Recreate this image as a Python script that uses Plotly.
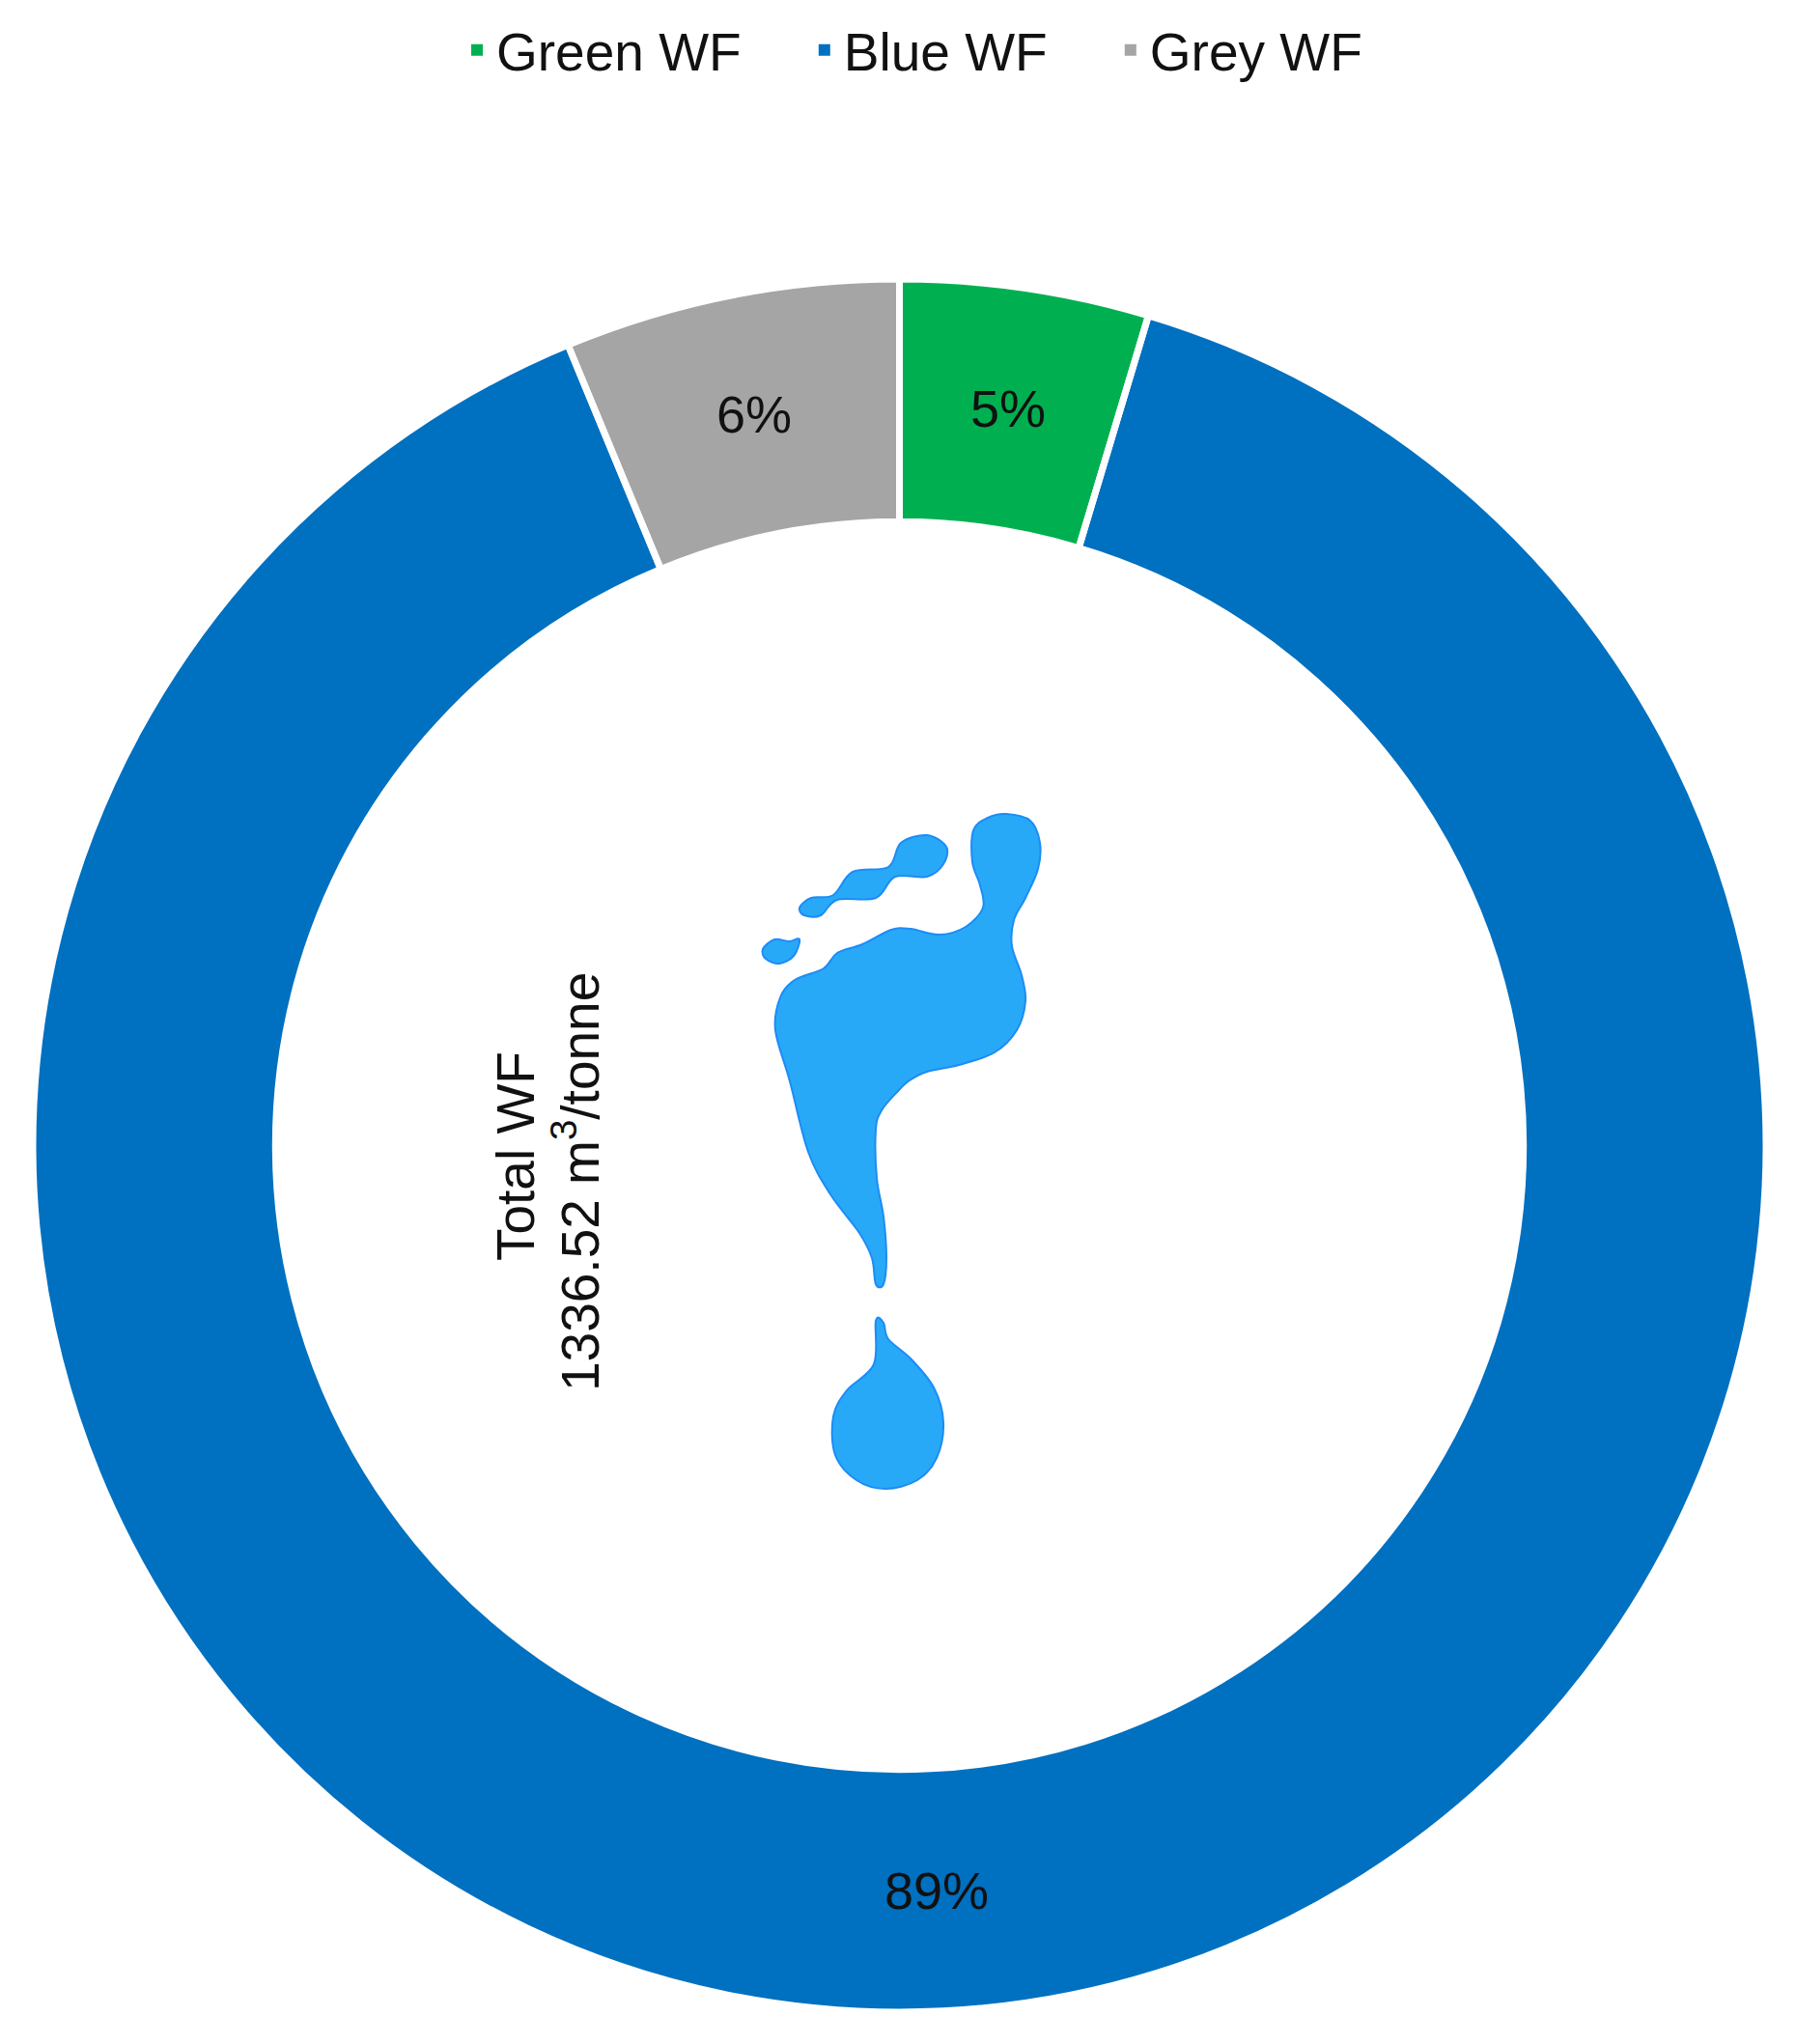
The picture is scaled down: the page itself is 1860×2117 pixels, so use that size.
import math
import plotly.graph_objects as go

W, H = 1860, 2117

# Data
labels = ["Green WF", "Blue WF", "Grey WF"]
values = [62.0, 1191.0, 83.5]          # m3/tonne, shares read from the ring
colors = ["#00B050", "#0070C0", "#A5A5A5"]
total_title = "Total WF"
total_value = "1336.52 m<sup>3</sup>/tonne"

FONT = "Liberation Sans, Arial, sans-serif"
FS = 54
FS_BIG = 55
INK = "#111111"
NBSP = "\u00a0"

# Ring geometry (page pixels)
CX, CY = 931.5, 1186.5
R_OUT = 897.5
HOLE = 0.720
R_LABEL = 772

# Decorative footprint icon outlines (page pixels)
foot = [(1042,843),(1067,850),(1077,873),(1075,900),(1062,930),(1050,953),(1048,980),(1058,1010),
        (1062,1037),(1053,1067),(1030,1090),(993,1103),(960,1110),(942,1119),(930,1130),(913,1150),
        (907,1170),(908,1220),(915,1260),(918,1303),(915,1330),(907,1330),(903,1303),(890,1277),
        (860,1237),(837,1193),(818,1120),(803,1067),(808,1033),(823,1015),(853,1003),(867,987),
        (893,978),(923,963),(943,962),(973,968),(1000,960),(1018,940),(1015,917),(1007,893),
        (1008,860),(1023,847)]
toes = [(960,865),(980,877),(977,895),(960,908),(927,908),(907,930),(867,932),(850,948),
        (833,948),(828,940),(840,930),(863,927),(883,903),(920,898),(933,873)]
small_toe = [(828,973),(822,990),(807,998),(793,993),(790,983),(802,973),(817,975)]
drop = [(907,1368),(915,1370),(920,1387),(943,1407),(967,1437),(977,1473),(970,1510),(950,1533),
        (917,1542),(887,1533),(865,1507),(863,1467),(877,1440),(905,1413)]


def px(p):
    return p[0] / W, 1 - p[1] / H


def smooth_path(pts):
    """Closed Catmull-Rom outline as an SVG path in paper coordinates."""
    n = len(pts)
    x0, y0 = px(pts[0])
    d = f"M{x0:.5f},{y0:.5f}"
    for i in range(n):
        a, b, c, e = pts[i - 1], pts[i], pts[(i + 1) % n], pts[(i + 2) % n]
        c1 = (b[0] + (c[0] - a[0]) / 6, b[1] + (c[1] - a[1]) / 6)
        c2 = (c[0] - (e[0] - b[0]) / 6, c[1] - (e[1] - b[1]) / 6)
        q1, q2, q3 = px(c1), px(c2), px(c)
        d += f"C{q1[0]:.5f},{q1[1]:.5f} {q2[0]:.5f},{q2[1]:.5f} {q3[0]:.5f},{q3[1]:.5f}"
    return d + "Z"


shapes = [dict(type="path", xref="paper", yref="paper", path=smooth_path(s),
               fillcolor="#28A9F8", line=dict(color="#1C8CF6", width=2), layer="above")
          for s in (foot, toes, small_toe, drop)]

domain = dict(x=[(CX - R_OUT) / W, (CX + R_OUT) / W],
              y=[1 - (CY + R_OUT) / H, 1 - (CY - R_OUT) / H])

# Filled ring: carries the legend (trailing spaces give the legend's wider entry gaps)
fill_ring = go.Pie(
    labels=[s + NBSP * 4 for s in labels], values=values, sort=False, direction="clockwise",
    hole=HOLE, marker=dict(colors=colors, line=dict(width=0)),
    textinfo="none", domain=domain,
)
# Same slices again, outlines only: the white separators
separators = go.Pie(
    labels=labels, values=values, sort=False, direction="clockwise",
    hole=HOLE, marker=dict(colors=["rgba(0,0,0,0)"] * 3, line=dict(color="white", width=7)),
    textinfo="none", hoverinfo="skip", showlegend=False, domain=domain,
)

# Percent labels, centred in each slice from the data
total = sum(values)
percent_notes = []
cum = 0.0
for v in values:
    mid = (cum + v / 2) / total * 2 * math.pi
    cum += v
    percent_notes.append(dict(
        text=f"{v / total:.0%}", xref="paper", yref="paper", showarrow=False,
        x=(CX + R_LABEL * math.sin(mid)) / W, y=1 - (CY - R_LABEL * math.cos(mid)) / H,
        xanchor="center", yanchor="middle", font=dict(family=FONT, size=FS, color=INK)))

fig = go.Figure([fill_ring, separators])

fig.update_layout(
    width=W, height=H, margin=dict(l=0, r=0, t=0, b=0),
    paper_bgcolor="white", plot_bgcolor="white",
    font=dict(family=FONT, size=FS, color=INK),
    showlegend=True,
    legend=dict(orientation="h", x=474 / W, xanchor="left", y=1 - 52 / H, yanchor="middle",
                font=dict(family=FONT, size=FS_BIG, color=INK), bgcolor="rgba(0,0,0,0)",
                itemclick=False, itemdoubleclick=False),
    shapes=shapes,
    annotations=percent_notes + [
        dict(text=total_title, x=501 / W, y=1 - 1198 / H, xref="paper", yref="paper",
             showarrow=False, textangle=-90, font=dict(family=FONT, size=FS_BIG, color=INK)),
        dict(text=total_value, x=560 / W, y=1 - 1224 / H, xref="paper", yref="paper",
             showarrow=False, textangle=-90, font=dict(family=FONT, size=FS_BIG, color=INK)),
    ],
)

fig.write_html("out.html", config={"displayModeBar": False},
               post_script="document.body.style.margin='0';")
